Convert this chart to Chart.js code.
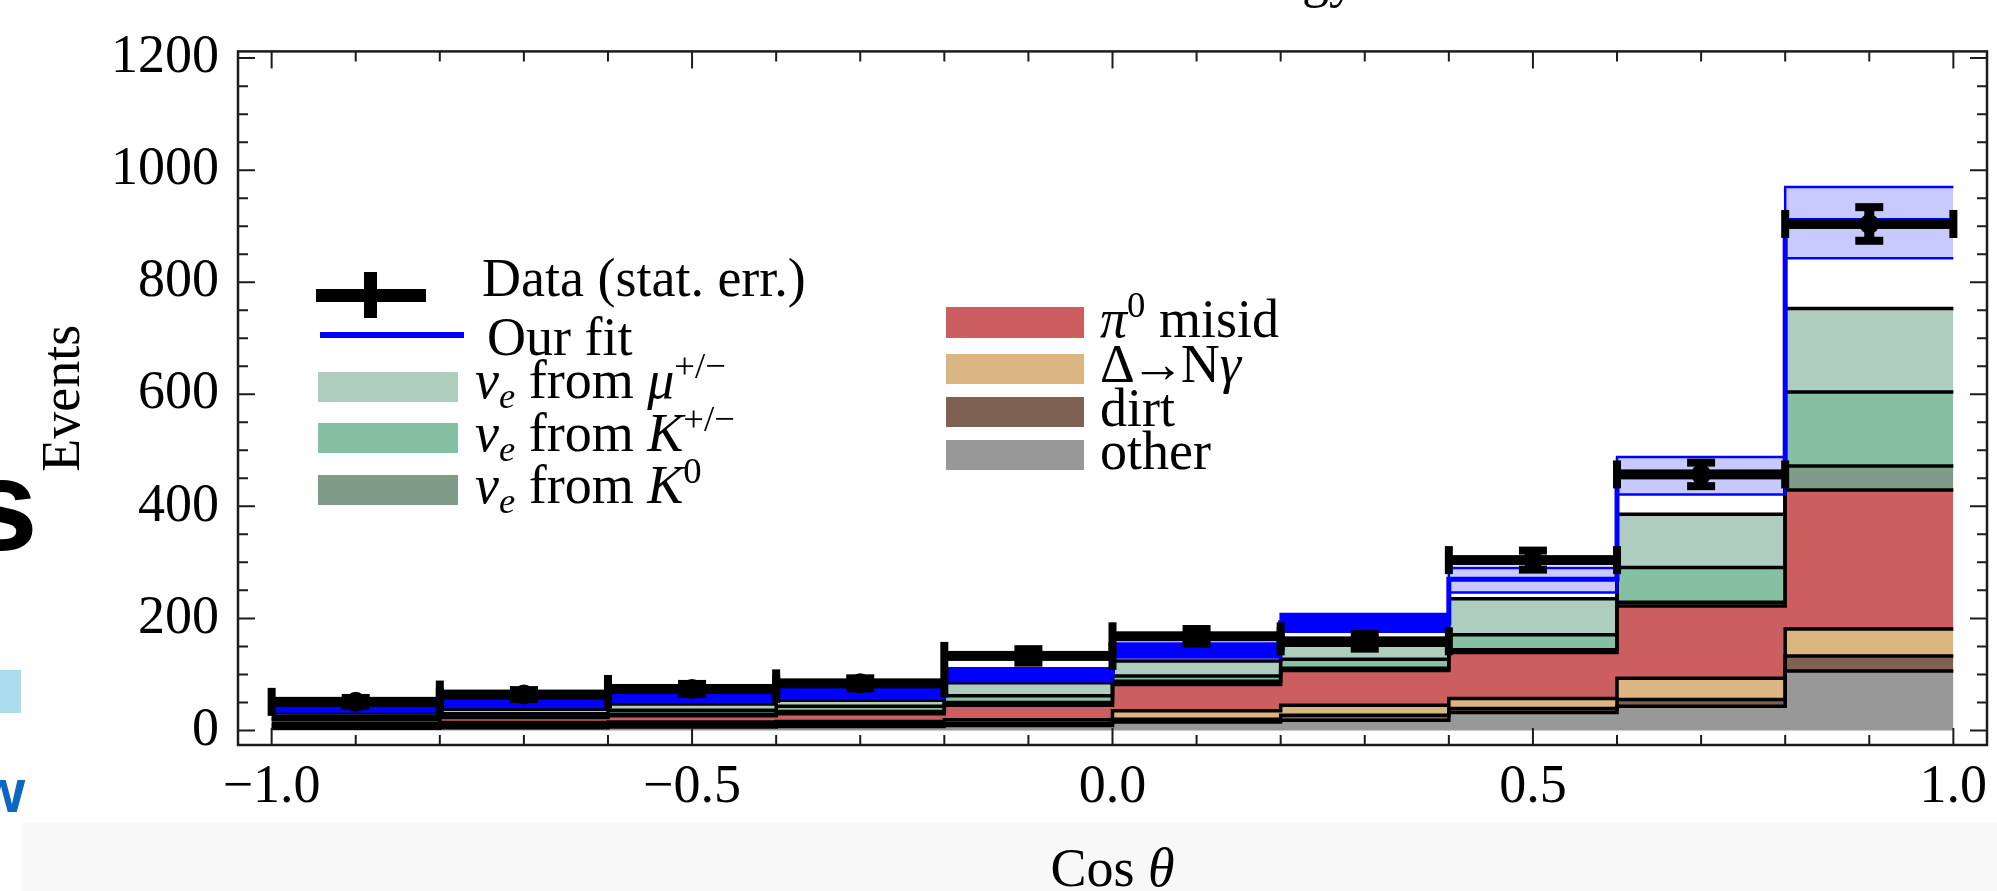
<!DOCTYPE html>
<html>
<head>
<meta charset="utf-8">
<script src="https://cdn.jsdelivr.net/npm/chart.js@4.4.0/dist/chart.umd.min.js"></script>
<style>
html,body{margin:0;padding:0;background:#fff;width:1997px;height:891px;overflow:hidden;}
#wrap{position:relative;width:1997px;height:891px;overflow:hidden;}
#band{position:absolute;left:21px;top:823px;width:1976px;height:68px;background:#f8f8f8;}
canvas{position:absolute;left:0;top:0;}
.lg{position:absolute;font-family:'Liberation Serif','Times New Roman',serif;font-size:54px;line-height:1;white-space:nowrap;color:#000;}
.lg i{font-style:italic;}
.lg sup{font-size:0.68em;vertical-align:0.55em;line-height:0;}
.lg sub{font-size:0.68em;vertical-align:-0.28em;line-height:0;font-style:italic;}
.arr{display:inline-block;margin:0 -4px;}
.blk{position:absolute;background:#000;}
.sw{position:absolute;width:140px;height:30px;}
</style>
</head>
<body>
<div id="wrap">
  <div id="band"></div>
  <canvas id="c" width="1997" height="891"></canvas>

  <!-- page fragments around the figure -->
  <div style="position:absolute;left:-34px;top:441px;font:700 129px/1 'Liberation Sans',Arial,sans-serif;color:#000;">s</div>
  <div style="position:absolute;left:0;top:670px;width:21px;height:43px;background:#a9dcec;"></div>
  <div style="position:absolute;left:-23px;top:760px;font:700 62px/1 'Liberation Sans',Arial,sans-serif;color:#0b67c2;">w</div>
  <div class="lg" style="right:641px;top:-49px;">Energy</div>

  <!-- legend, left column -->
  <div class="blk" style="left:316px;top:289px;width:110px;height:13px;"></div>
  <div class="blk" style="left:364px;top:272px;width:13px;height:46px;"></div>
  <div class="lg" style="left:482px;top:251px;">Data (stat. err.)</div>
  <div style="position:absolute;left:320px;top:332px;width:144px;height:6px;background:#0000ff;"></div>
  <div class="lg" style="left:487px;top:310px;">Our fit</div>
  <div class="sw" style="left:318px;top:372px;background:#afcdbf;"></div>
  <div class="lg" style="left:475px;top:353px;"><i>ν</i><sub>e</sub> from <i>μ</i><sup>+/−</sup></div>
  <div class="sw" style="left:318px;top:423px;background:#85c0a3;"></div>
  <div class="lg" style="left:475px;top:406px;"><i>ν</i><sub>e</sub> from <i>K</i><sup>+/−</sup></div>
  <div class="sw" style="left:318px;top:475px;background:#819b89;"></div>
  <div class="lg" style="left:475px;top:458px;"><i>ν</i><sub>e</sub> from <i>K</i><sup>0</sup></div>

  <!-- legend, right column -->
  <div class="sw" style="left:946px;top:307px;width:138px;height:31px;background:#cc5e60;"></div>
  <div class="lg" style="left:1100px;top:292px;"><i>π</i><sup>0</sup> misid</div>
  <div class="sw" style="left:946px;top:354px;width:138px;height:30px;background:#dbb683;"></div>
  <div class="lg" style="left:1100px;top:337px;">Δ<span class="arr">→</span>N<i>γ</i></div>
  <div class="sw" style="left:946px;top:397px;width:138px;height:30px;background:#7f6153;"></div>
  <div class="lg" style="left:1100px;top:381px;">dirt</div>
  <div class="sw" style="left:946px;top:440px;width:138px;height:30px;background:#989898;"></div>
  <div class="lg" style="left:1100px;top:424px;">other</div>
</div>

<script>
// ---------------- data ----------------
const binEdges   = [-1.0, -0.8, -0.6, -0.4, -0.2, 0.0, 0.2, 0.4, 0.6, 0.8, 1.0];
const binCenters = [-0.9, -0.7, -0.5, -0.3, -0.1, 0.1, 0.3, 0.5, 0.7, 0.9];

// Monte-Carlo components per bin (stacked from the bottom)
const other       = [4, 5, 6, 7, 9, 15, 18, 32, 43, 106];
const dirt        = [4, 5, 4, 4, 4, 5, 9, 7, 12, 27];
const deltaNgamma = [4, 4, 5, 5, 6, 15, 18, 18, 38, 48];
const pi0Misid    = [7, 9, 11, 14, 26, 47, 62, 82, 129, 248];
const nueFromK0   = [2, 2, 3, 4, 5, 6, 4, 5, 7, 43];
const nueFromKpm  = [4, 5, 7, 9, 12, 9, 16, 27, 62, 132];
const nueFromMu   = [6, 8, 11, 11, 23, 27, 25, 64, 95, 149];

// fit
const fitCentral = [38, 48, 57, 65, 100, 143, 192, 270, 455, 910];
const fitLow     = [34, 42, 51, 57, 88, 130, 176, 246, 421, 843];
const fitHigh    = [42, 54, 64, 74, 111, 155, 208, 290, 488, 970];

// data
const dataEvents = [51, 64, 74, 84, 133, 168, 159, 304, 457, 904];
const dataErrors = [7, 8, 9, 9, 12, 13, 13, 17, 21, 30];

// axes
const xTickValues = [-1.0, -0.5, 0.0, 0.5, 1.0];
const xTickLabels = ['−1.0', '−0.5', '0.0', '0.5', '1.0'];
const yTickValues = [0, 200, 400, 600, 800, 1000, 1200];
const yTickLabels = ['0', '200', '400', '600', '800', '1000', '1200'];
const xTitle = ['Cos ', 'θ'];
const yTitle = 'Events';

// ---------------- build datasets ----------------
const layers = [other, dirt, deltaNgamma, pi0Misid, nueFromK0, nueFromKpm, nueFromMu];
const layerColors = ['#989898', '#7f6153', '#dbb683', '#cc5e60', '#819b89', '#85c0a3', '#afcdbf'];
const cumulative = [];
let running = layers[0].map(() => 0);
layers.forEach(l => { running = running.map((v, i) => v + l[i]); cumulative.push(running.slice()); });

const stepPts = arr => binEdges.map((x, i) => ({x: x, y: arr[Math.min(i, arr.length - 1)]}));

// narrow parts of the fit band render as solid blue, wide parts as light blue
const bandFill = ctx => {
  const chart = ctx.chart || (ctx.p0 && ctx.p0.$context && ctx.p0.$context.chart);
  const i = Math.min(ctx.p0DataIndex, fitHigh.length - 1);
  const ys = chart && chart.scales && chart.scales.y;
  if (!ys) return '#c8caff';
  const h = Math.abs(ys.getPixelForValue(fitHigh[i]) - ys.getPixelForValue(fitLow[i]));
  return h < 22 ? '#0000ff' : '#c8caff';
};

const datasets = [
  {
    data: binCenters.map((x, i) => ({x: x, y: dataEvents[i]})),
    showLine: false, pointRadius: 10, pointHoverRadius: 10,
    pointBackgroundColor: '#000', pointBorderWidth: 0, fill: false
  },
  {
    data: stepPts(fitCentral), stepped: true, borderColor: '#0000ff',
    borderWidth: 5, pointRadius: 0, fill: false
  },
  {
    data: stepPts(fitHigh), stepped: true, borderColor: '#0000ff',
    borderWidth: 2.5, pointRadius: 0, fill: '+1', backgroundColor: '#c8caff',
    segment: {backgroundColor: bandFill}
  },
  {
    data: stepPts(fitLow), stepped: true, borderColor: '#0000ff',
    borderWidth: 2.5, pointRadius: 0, fill: false
  }
];
cumulative.forEach((c, k) => {
  datasets.push({
    data: stepPts(c), stepped: true, borderColor: '#000', borderWidth: 3.5,
    pointRadius: 0, fill: k === 0 ? 'origin' : '-1', backgroundColor: layerColors[k]
  });
});

const serif = "'Liberation Serif', 'Times New Roman', serif";

// ---------------- plugin: data error bars + inward ticks + frame + x title ----------------
const framePlugin = {
  id: 'frameAndErrors',
  afterDatasetsDraw(chart) {
    const {ctx, chartArea: a, scales: {x, y}} = chart;
    ctx.save();
    ctx.fillStyle = '#000';
    for (let i = 0; i < dataEvents.length; i++) {
      const xl = x.getPixelForValue(binEdges[i]);
      const xr = x.getPixelForValue(binEdges[i + 1]);
      const xc = x.getPixelForValue(binCenters[i]);
      const yc = y.getPixelForValue(dataEvents[i]);
      const yt = y.getPixelForValue(dataEvents[i] + dataErrors[i]);
      const yb = y.getPixelForValue(dataEvents[i] - dataErrors[i]);
      ctx.fillRect(xl, yc - 5, xr - xl, 10);
      ctx.fillRect(xl - 4, yc - 14, 8, 28);
      ctx.fillRect(xr - 4, yc - 14, 8, 28);
      ctx.fillRect(xc - 5, yt, 10, yb - yt);
      ctx.fillRect(xc - 14, yt - 4, 28, 8);
      ctx.fillRect(xc - 14, yb - 4, 28, 8);
    }
    ctx.strokeStyle = '#1c1c1c';
    ctx.lineWidth = 2;
    ctx.beginPath();
    for (let i = -10; i <= 10; i++) {
      const px = x.getPixelForValue(i / 10);
      const len = (i % 5 === 0) ? 17 : 10;
      ctx.moveTo(px, a.bottom); ctx.lineTo(px, a.bottom - len);
      ctx.moveTo(px, a.top); ctx.lineTo(px, a.top + len);
    }
    for (let v = 0; v <= 1200; v += 50) {
      const py = y.getPixelForValue(v);
      const len = (v % 200 === 0) ? 17 : 10;
      ctx.moveTo(a.left, py); ctx.lineTo(a.left + len, py);
      ctx.moveTo(a.right, py); ctx.lineTo(a.right - len, py);
    }
    ctx.stroke();
    ctx.lineWidth = 2.5;
    ctx.strokeRect(a.left, a.top, a.right - a.left, a.bottom - a.top);
    ctx.restore();
  },
  afterDraw(chart) {
    const {ctx, chartArea: a} = chart;
    ctx.save();
    ctx.fillStyle = '#000';
    ctx.textBaseline = 'alphabetic';
    ctx.font = '54px ' + serif;
    const w1 = ctx.measureText(xTitle[0]).width;
    ctx.font = 'italic 54px ' + serif;
    const w2 = ctx.measureText(xTitle[1]).width;
    const x0 = (a.left + a.right) / 2 - (w1 + w2) / 2;
    ctx.font = '54px ' + serif;
    ctx.textAlign = 'left';
    ctx.fillText(xTitle[0], x0, 886);
    ctx.font = 'italic 54px ' + serif;
    ctx.fillText(xTitle[1], x0 + w1, 886);
    ctx.restore();
  }
};

Chart.defaults.font.family = serif;
Chart.defaults.color = '#000';

new Chart(document.getElementById('c'), {
  type: 'line',
  data: {datasets: datasets},
  options: {
    responsive: false,
    devicePixelRatio: 1,
    animation: false,
    layout: {padding: {top: 40, right: 2, left: 0, bottom: 0}},
    plugins: {
      legend: {display: false},
      tooltip: {enabled: false},
      filler: {drawTime: 'beforeDatasetsDraw'}
    },
    scales: {
      x: {
        type: 'linear', min: -1.04, max: 1.04,
        grid: {display: false, drawTicks: false},
        border: {display: false},
        afterBuildTicks: s => { s.ticks = xTickValues.map(v => ({value: v})); },
        afterFit: s => { s.height = 146; s.paddingLeft = 0; s.paddingRight = 0; },
        ticks: {
          autoSkip: false, maxRotation: 0, minRotation: 0, padding: 10,
          font: {size: 54, family: serif},
          callback: (v, i) => xTickLabels[i]
        },
        title: {display: false}
      },
      y: {
        type: 'linear', min: -26, max: 1212,
        grid: {display: false, drawTicks: false},
        border: {display: false},
        afterBuildTicks: s => { s.ticks = yTickValues.map(v => ({value: v})); },
        afterFit: s => { s.width = 238; },
        ticks: {
          autoSkip: false, padding: 19,
          font: {size: 54, family: serif},
          callback: (v, i) => yTickLabels[i]
        },
        title: {
          display: true, text: yTitle,
          font: {size: 54, family: serif, lineHeight: 1},
          padding: {top: 38, bottom: 0}
        }
      }
    }
  },
  plugins: [framePlugin]
});
</script>
</body>
</html>
